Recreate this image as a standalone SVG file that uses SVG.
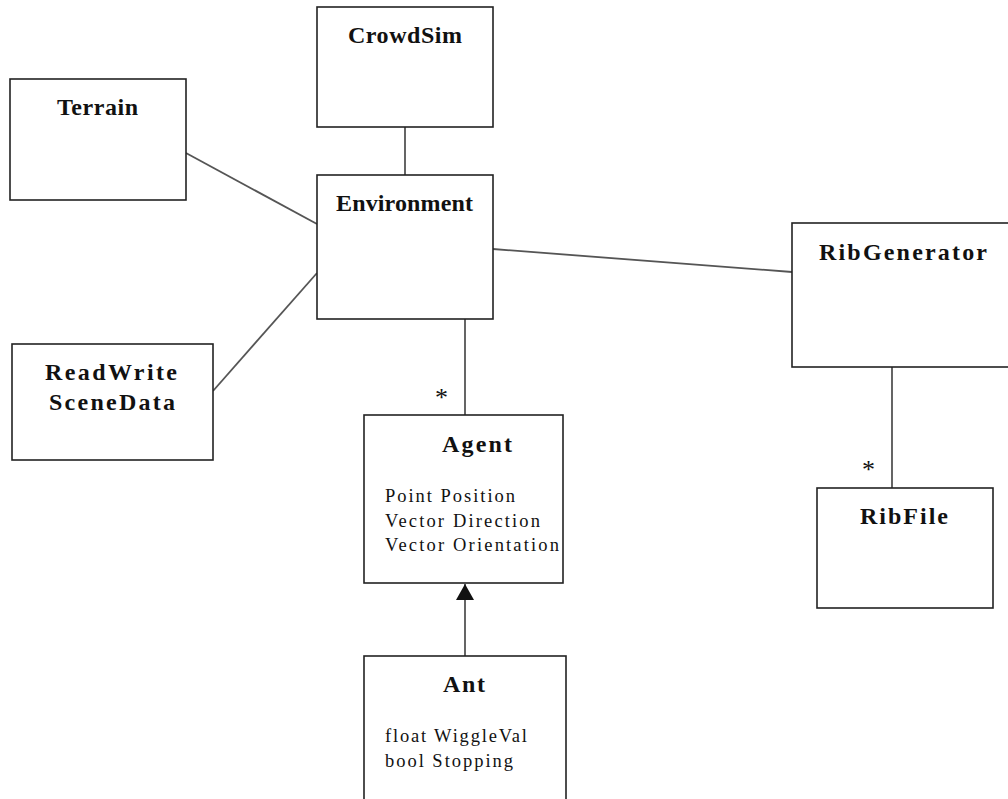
<svg xmlns="http://www.w3.org/2000/svg" width="1008" height="799" viewBox="0 0 1008 799">
<defs>
<style>
.box{fill:#fff;stroke:#222;stroke-width:1.6}
.t{font-family:"Liberation Serif","Times New Roman",serif;font-weight:bold;font-size:24px;fill:#111;text-anchor:start}
.a{font-family:"Liberation Serif","Times New Roman",serif;font-size:18.5px;fill:#111}
.c{stroke:#555;stroke-width:1.8;fill:none}
.s{font-family:"Liberation Serif","Times New Roman",serif;font-size:26px;fill:#111}
</style>
<marker id="tri" viewBox="0 0 16 18" refX="16" refY="9" markerWidth="16" markerHeight="18" markerUnits="userSpaceOnUse" orient="auto">
<path d="M0,0 L16,9 L0,18 Z" fill="#111"/>
</marker>
</defs>
<rect width="1008" height="799" fill="#fff"/>
<g id="connectors">
<line class="c" x1="405" y1="127" x2="405" y2="175"/>
<line class="c" x1="186" y1="153" x2="317" y2="224"/>
<line class="c" x1="213" y1="391" x2="317" y2="273"/>
<line class="c" x1="493" y1="249" x2="792" y2="272"/>
<line class="c" x1="892" y1="367" x2="892" y2="488"/>
<line class="c" x1="465" y1="319" x2="465" y2="415"/>
<line class="c" x1="465" y1="656" x2="465" y2="584" marker-end="url(#tri)"/>
<text class="s" x="435" y="406">*</text>
<text class="s" x="862" y="478">*</text>
</g>
<g id="CrowdSim">
<rect class="box" x="317" y="7" width="176" height="120"/>
<text class="t" x="348" y="43" textLength="114" lengthAdjust="spacing">CrowdSim</text>
</g>
<g id="Terrain">
<rect class="box" x="10" y="79" width="176" height="121"/>
<text class="t" x="57" y="115" textLength="81" lengthAdjust="spacing">Terrain</text>
</g>
<g id="Environment">
<rect class="box" x="317" y="175" width="176" height="144"/>
<text class="t" x="336" y="211" textLength="137" lengthAdjust="spacing">Environment</text>
</g>
<g id="ReadWriteSceneData">
<rect class="box" x="12" y="344" width="201" height="116"/>
<text class="t" x="45" y="380" textLength="132" lengthAdjust="spacing">ReadWrite</text>
<text class="t" x="49" y="410" textLength="126" lengthAdjust="spacing">SceneData</text>
</g>
<g id="RibGenerator">
<rect class="box" x="792" y="223" width="230" height="144"/>
<text class="t" x="819" y="260" textLength="168" lengthAdjust="spacing">RibGenerator</text>
</g>
<g id="RibFile">
<rect class="box" x="817" y="488" width="176" height="120"/>
<text class="t" x="860" y="524" textLength="88" lengthAdjust="spacing">RibFile</text>
</g>
<g id="Agent">
<rect class="box" x="364" y="415" width="199" height="168"/>
<text class="t" x="442" y="452" textLength="70" lengthAdjust="spacing">Agent</text>
<text class="a" x="385" y="502" textLength="130" lengthAdjust="spacing">Point Position</text>
<text class="a" x="385" y="527" textLength="155" lengthAdjust="spacing">Vector Direction</text>
<text class="a" x="385" y="551" textLength="174" lengthAdjust="spacing">Vector Orientation</text>
</g>
<g id="Ant">
<rect class="box" x="364" y="656" width="202" height="160"/>
<text class="t" x="443" y="692" textLength="42" lengthAdjust="spacing">Ant</text>
<text class="a" x="385" y="742" textLength="142" lengthAdjust="spacing">float WiggleVal</text>
<text class="a" x="385" y="767" textLength="128" lengthAdjust="spacing">bool Stopping</text>
</g>
</svg>
